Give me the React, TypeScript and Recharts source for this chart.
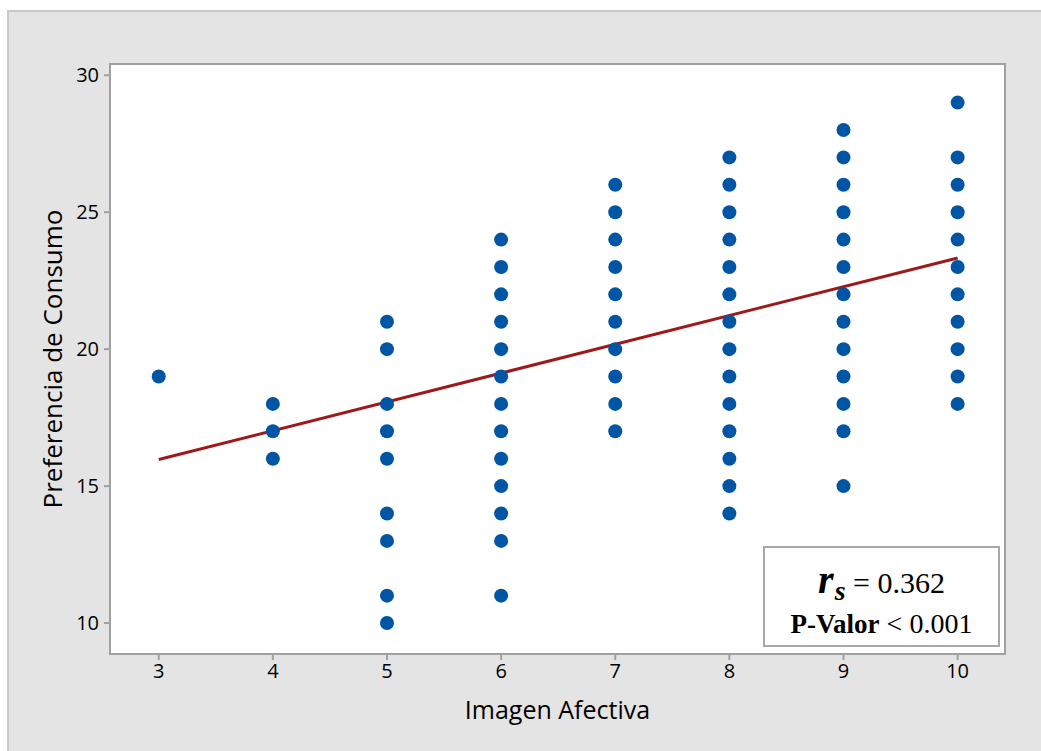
import React from 'react';
import { ScatterChart, Scatter, XAxis, YAxis, ReferenceArea, ReferenceLine } from 'recharts';

const xCategories = [3, 4, 5, 6, 7, 8, 9, 10];
const yAt3 = [19];
const yAt4 = [18, 17, 16];
const yAt5 = [21, 20, 18, 17, 16, 14, 13, 11, 10];
const yAt6 = [24, 23, 22, 21, 20, 19, 18, 17, 16, 15, 14, 13, 11];
const yAt7 = [26, 25, 24, 23, 22, 21, 20, 19, 18, 17];
const yAt8 = [27, 26, 25, 24, 23, 22, 21, 20, 19, 18, 17, 16, 15, 14];
const yAt9 = [28, 27, 26, 25, 24, 23, 22, 21, 20, 19, 18, 17, 15];
const yAt10 = [29, 27, 26, 25, 24, 23, 22, 21, 20, 19, 18];
const yColumns = [yAt3, yAt4, yAt5, yAt6, yAt7, yAt8, yAt9, yAt10];

const xTicks = [3, 4, 5, 6, 7, 8, 9, 10];
const yTicks = [10, 15, 20, 25, 30];
const xDomain = [2.573, 10.415];
const yDomain = [8.87, 30.41];

const fitX = [3, 10];
const fitY = [15.97, 23.33];

const points = xCategories.flatMap((x, i) => yColumns[i].map((y) => ({ x, y })));

const SANS = '"Open Sans", "Noto Sans", sans-serif';
const SERIF = '"Liberation Serif", "Times New Roman", serif';
const GRAY = '#a0a0a0';

const Dot = (props: any) => <circle cx={props.cx} cy={props.cy} r={7} fill="#0055a5" />;

export default function App() {
  return (
    <div style={{ position: 'fixed', left: 0, top: 0, width: 1041, height: 751, background: '#ffffff', overflow: 'hidden' }}>
      <div
        style={{
          position: 'absolute', left: 7, top: 10, width: 1041 - 7, height: 751 - 10,
          background: '#e4e4e4', borderLeft: '2px solid #c9c9c9', borderTop: '2px solid #c9c9c9', boxSizing: 'border-box',
        }}
      />
      <div style={{ position: 'absolute', left: 0, top: 0 }}>
        <ScatterChart width={1041} height={751} margin={{ top: 64, right: 36, bottom: 57, left: 50 }}>
          <XAxis
            type="number" dataKey="x" domain={xDomain} ticks={xTicks} allowDataOverflow
            axisLine={false} tickLine={{ stroke: GRAY, strokeWidth: 2 }} tickSize={6} tickMargin={4} height={40}
            tick={{ fill: '#000', fontSize: 20, fontFamily: SANS }}
            label={{ value: 'Imagen Afectiva', position: 'bottom', offset: 7, style: { fill: '#000', fontSize: 25, fontFamily: SANS } }}
          />
          <YAxis
            type="number" dataKey="y" domain={yDomain} ticks={yTicks} allowDataOverflow
            axisLine={false} tickLine={{ stroke: GRAY, strokeWidth: 2 }} tickSize={6} tickMargin={5} width={60}
            tick={{ fill: '#000', fontSize: 20, fontFamily: SANS }}
            label={{ value: 'Preferencia de Consumo', angle: -90, position: 'insideLeft', offset: 3, style: { textAnchor: 'middle', fill: '#000', fontSize: 26, fontFamily: SANS } }}
          />
          <ReferenceArea x1={xDomain[0]} x2={xDomain[1]} y1={yDomain[0]} y2={yDomain[1]} fill="#ffffff" fillOpacity={1} stroke={GRAY} strokeWidth={2} ifOverflow="visible" />
          <ReferenceLine segment={[{ x: fitX[0], y: fitY[0] }, { x: fitX[1], y: fitY[1] }]} stroke="#9e1a1a" strokeWidth={3} ifOverflow="visible" />
          <Scatter data={points} shape={Dot} isAnimationActive={false} />
        </ScatterChart>
      </div>
      <div
        style={{
          position: 'absolute', left: 763, top: 546, width: 237, height: 101, background: '#ffffff',
          border: '2px solid #a8a8a8', boxSizing: 'border-box', fontFamily: SERIF, color: '#000',
        }}
      >
        <div style={{ position: 'absolute', left: 0, width: '100%', top: 15, textAlign: 'center', fontSize: 30, lineHeight: '34px', whiteSpace: 'nowrap' }}>
          <span style={{ fontWeight: 'bold', fontStyle: 'italic', fontSize: 40 }}>r</span>
          <span style={{ fontWeight: 'bold', fontStyle: 'italic', fontSize: 28, position: 'relative', top: 7, marginLeft: 1 }}>s</span>
          <span> = 0.362</span>
        </div>
        <div style={{ position: 'absolute', left: 0, width: '100%', top: 60, textAlign: 'center', fontSize: 28, lineHeight: '32px', whiteSpace: 'nowrap' }}>
          <span style={{ fontWeight: 'bold', fontSize: 27 }}>P-Valor</span>
          <span> &lt; 0.001</span>
        </div>
      </div>
    </div>
  );
}
